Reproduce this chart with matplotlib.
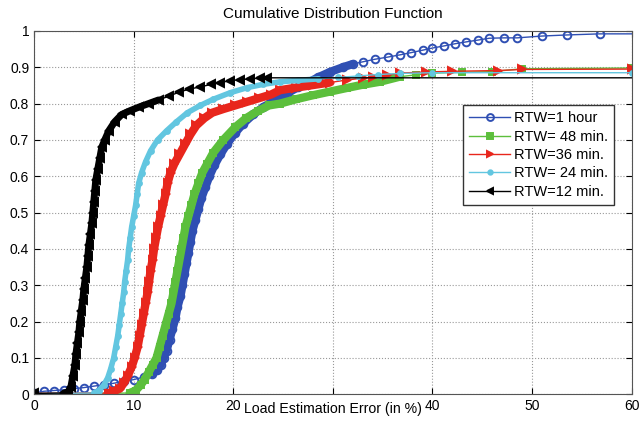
import matplotlib
matplotlib.use("Agg")
import matplotlib.pyplot as plt

plt.rcParams['font.family'] = ['Liberation Sans', 'DejaVu Sans']

hour_x = [0, 1, 2, 3, 4, 5, 6, 7, 8, 9, 10, 11, 11.8, 12.3, 12.7, 13.0,
          13.3, 13.6, 13.9, 14.2, 14.4, 14.7, 14.9, 15.1, 15.3, 15.5, 15.7,
          15.9, 16.2, 16.5, 16.8, 17.2, 17.6, 18.1, 18.7, 19.4, 20.2, 21.0,
          22.0, 23.0, 24.2, 25.5, 26.5, 27.4, 28.5, 29.7, 31.0, 32.0, 33.0,
          34.2, 35.5, 36.7, 37.8, 39.0, 40.0, 41.2, 42.3, 43.4, 44.6, 45.7,
          47.2, 48.5, 51.0, 53.5, 56.8, 60]
hour_y = [0.003, 0.008, 0.01, 0.012, 0.015, 0.018, 0.022, 0.026, 0.03, 0.035,
          0.04, 0.047, 0.055, 0.066, 0.08, 0.10, 0.12, 0.15, 0.18, 0.21, 0.24,
          0.27, 0.30, 0.33, 0.36, 0.39, 0.42, 0.45, 0.48, 0.51, 0.54, 0.57,
          0.60, 0.63, 0.66, 0.69, 0.72, 0.745, 0.77, 0.79, 0.81, 0.83, 0.845,
          0.856, 0.872, 0.887, 0.900, 0.909, 0.915, 0.922, 0.928, 0.934,
          0.940, 0.947, 0.953, 0.959, 0.965, 0.970, 0.975, 0.980, 0.981,
          0.981, 0.986, 0.989, 0.992, 0.992]

m48_x = [0, 9.6, 10.2, 10.7, 11.1, 11.5, 11.9, 12.3, 12.6, 12.9, 13.2, 13.5,
         13.8, 14.0, 14.2, 14.4, 14.6, 14.8, 15.0, 15.2, 15.5, 15.8, 16.1,
         16.5, 16.9, 17.4, 18.0, 19.0, 20.2, 21.3, 22.5, 23.6, 24.7, 26.3,
         28.0, 29.7, 31.4, 33.0, 34.7, 36.7, 38.3, 40.0, 43.0, 46.0, 49.0, 60]
m48_y = [0.001, 0.003, 0.01, 0.025, 0.04, 0.06, 0.08, 0.10, 0.13, 0.16, 0.19,
         0.22, 0.25, 0.28, 0.31, 0.34, 0.37, 0.40, 0.43, 0.46, 0.49, 0.52,
         0.55, 0.58, 0.61, 0.635, 0.665, 0.70, 0.735, 0.76, 0.78, 0.795,
         0.80, 0.812, 0.823, 0.833, 0.843, 0.852, 0.86, 0.874, 0.879, 0.884,
         0.886, 0.888, 0.896, 0.898]

m36_x = [0, 7.5, 8.0, 8.6, 9.0, 9.4, 9.8, 10.1, 10.4, 10.6, 10.8, 11.0, 11.2,
         11.4, 11.55, 11.7, 11.9, 12.05, 12.25, 12.45, 12.7, 12.95, 13.2,
         13.4, 13.7, 14.1, 14.6, 15.2, 15.7, 16.3, 17.1, 17.9, 19.0, 20.2,
         21.4, 22.6, 23.8, 24.7, 26.3, 28.0, 29.7, 31.4, 33.0, 34.0, 35.4,
         36.7, 39.3, 42.0, 46.6, 49.0, 60]
m36_y = [0.003, 0.003, 0.008, 0.015, 0.03, 0.05, 0.075, 0.10, 0.13, 0.16,
         0.19, 0.22, 0.25, 0.28, 0.31, 0.34, 0.37, 0.40, 0.43, 0.46, 0.49,
         0.52, 0.55, 0.58, 0.61, 0.635, 0.66, 0.69, 0.715, 0.74, 0.76, 0.775,
         0.785, 0.795, 0.805, 0.815, 0.825, 0.837, 0.844, 0.851, 0.858,
         0.865, 0.870, 0.873, 0.878, 0.884, 0.887, 0.889, 0.891, 0.894, 0.895]

m24_x = [0, 6.0, 6.5, 7.0, 7.4, 7.7, 8.0, 8.2, 8.4, 8.55, 8.7, 8.85, 9.0,
         9.1, 9.25, 9.4, 9.5, 9.65, 9.8, 10.0, 10.2, 10.35, 10.5, 10.8, 11.2,
         11.7, 12.4, 13.3, 14.3, 15.4, 16.7, 18.0, 19.7, 21.4, 23.0, 24.7,
         26.5, 28.5, 30.5, 32.5, 34.5, 36.7, 40.0, 60]
m24_y = [0.002, 0.003, 0.01, 0.025, 0.045, 0.07, 0.10, 0.13, 0.16, 0.19,
         0.22, 0.25, 0.28, 0.31, 0.34, 0.37, 0.40, 0.43, 0.46, 0.49, 0.52,
         0.55, 0.58, 0.61, 0.64, 0.67, 0.70, 0.725, 0.75, 0.775, 0.795,
         0.812, 0.830, 0.844, 0.853, 0.860, 0.864, 0.868, 0.872, 0.876,
         0.880, 0.883, 0.885, 0.885]

m12_x = [0, 3.0, 3.4, 3.7, 3.9, 4.1, 4.2, 4.35, 4.5, 4.6, 4.75, 4.9, 5.0,
         5.15, 5.3, 5.4, 5.5, 5.65, 5.8, 5.9, 6.0, 6.1, 6.2, 6.4, 6.6, 6.8,
         7.1, 7.5, 8.1, 8.8, 9.6, 10.5, 11.5, 12.5, 13.5, 14.6, 15.6, 16.7,
         17.8, 18.7, 19.7, 20.7, 21.7, 22.7, 23.4, 60]
m12_y = [0.002, 0.003, 0.005, 0.02, 0.05, 0.08, 0.11, 0.14, 0.17, 0.20, 0.23,
         0.26, 0.29, 0.32, 0.35, 0.38, 0.41, 0.44, 0.47, 0.50, 0.53, 0.56,
         0.59, 0.62, 0.65, 0.68, 0.70, 0.725, 0.75, 0.77, 0.78, 0.79, 0.80,
         0.81, 0.82, 0.832, 0.84, 0.846, 0.853, 0.858, 0.863, 0.866, 0.868,
         0.870, 0.871, 0.871]

labels = ['RTW=1 hour', 'RTW= 48 min.', 'RTW=36 min.', 'RTW= 24 min.', 'RTW=12 min.']
# the "30" label is covered by the axis label in the source
xtick_labels = ['0', '10', '20', '', '40', '50', '60']
ytick_labels = ['0', '0.1', '0.2', '0.3', '0.4', '0.5', '0.6', '0.7', '0.8', '0.9', '1']

fig = plt.figure(figsize=(6.42, 4.36), dpi=100)
ax = fig.add_axes([0.053, 0.096, 0.931, 0.833])

# colour, marker, size, marker on last point, x-range where samples pile up, band width
series = [
    (hour_x, hour_y, '#2f4fb3', 'o', 5.5, False, (11.5, 32), 6.0),
    (m48_x, m48_y, '#5cbf3c', 's', 5.0, True, (9.6, 37), 6.0),
    (m36_x, m36_y, '#e8261c', '>', 5.5, True, (7.5, 30), 6.0),
    (m24_x, m24_y, '#62c6e0', '.', 7.0, True, (6.0, 29), 4.0),
    (m12_x, m12_y, '#000000', '<', 5.5, False, (3.0, 13), 5.0),
]
for (xs, ys, col, mk, ms, last, dense, bw), lab in zip(series, labels):
    bx = [x for x in xs if dense[0] <= x <= dense[1]]
    by = [y for x, y in zip(xs, ys) if dense[0] <= x <= dense[1]]
    ax.plot(bx, by, color=col, lw=bw, solid_capstyle='round',
            solid_joinstyle='round')
    n = len(xs)
    idx = list(range(n)) if last else list(range(n - 1))
    ax.plot(xs, ys, color=col, lw=1.0, marker=mk, ms=ms, mew=1.4,
            mfc='none' if mk == 'o' else col, mec=col, markevery=idx, label=lab)

ax.set_xlim(0, 60)
ax.set_ylim(0, 1)
ax.set_xticks(range(0, 61, 10))
ax.set_xticklabels(xtick_labels)
ax.set_yticks([i / 10 for i in range(11)])
ax.set_yticklabels(ytick_labels)
ax.grid(True, linestyle=':', color='#999999', lw=0.8)
ax.tick_params(direction='in', top=True, right=True, labelsize=10, length=4)
for s in ax.spines.values():
    s.set_color('#555555')

ax.set_title('Cumulative Distribution Function', fontsize=11, pad=9)
ax.set_xlabel('Load Estimation Error (in %)', fontsize=10.2, labelpad=-8)

leg = ax.legend(loc='upper right', bbox_to_anchor=(0.983, 0.815), fontsize=10.5,
                fancybox=False, edgecolor='#333333', framealpha=1,
                handlelength=2.8, borderpad=0.4, labelspacing=0.3,
                handletextpad=0.3, markerscale=0.9)
leg.get_frame().set_linewidth(1.0)

fig.savefig('out.png', dpi=100)
